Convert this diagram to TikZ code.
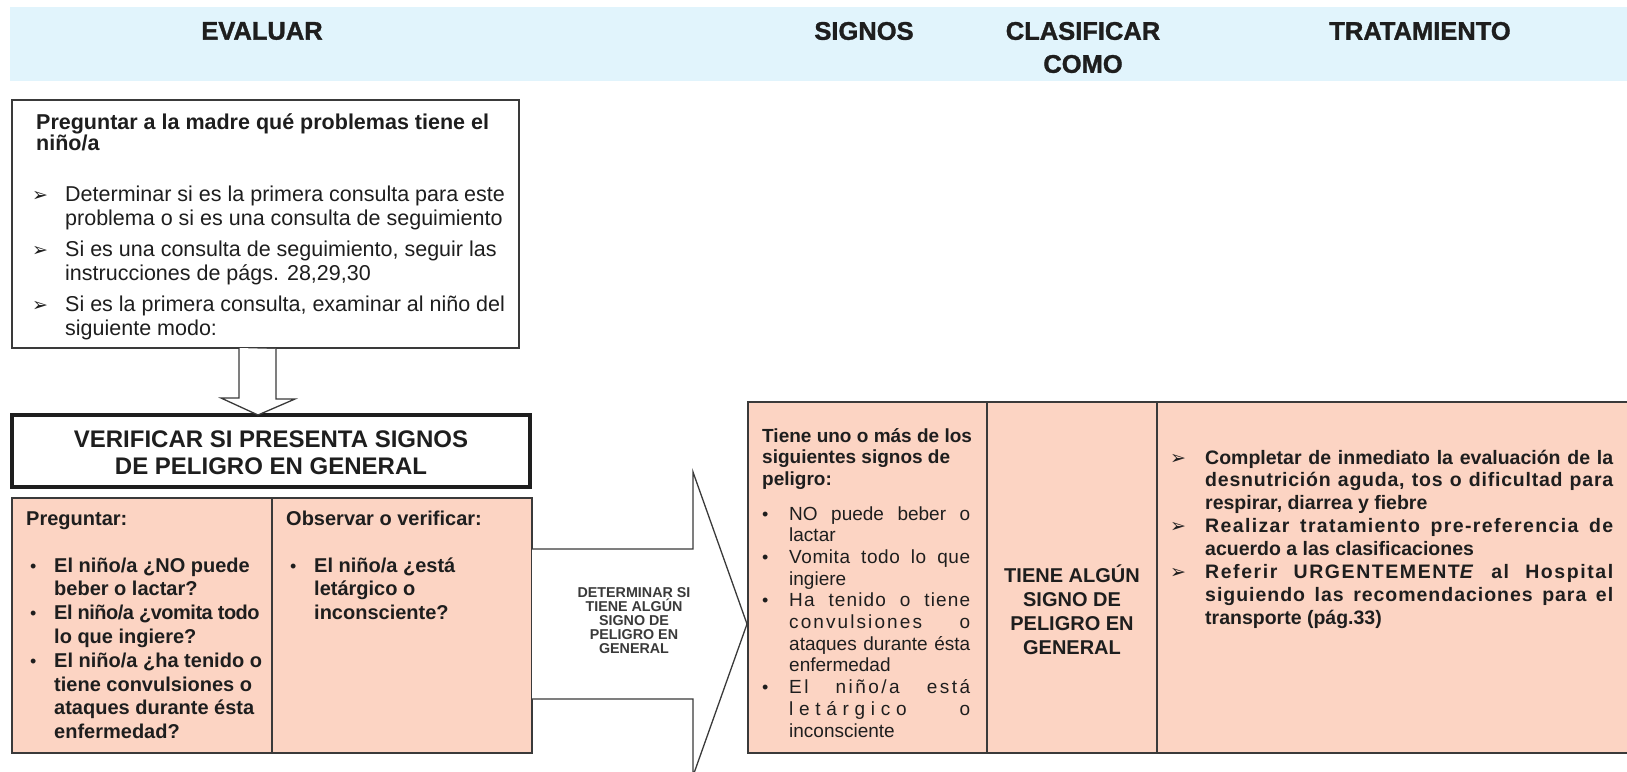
\documentclass[tikz,border=0pt]{standalone}
\usepackage{fontspec}
\setmainfont{Liberation Sans}
\newfontfamily\djv{DejaVu Sans}
\usetikzlibrary{calc}
\definecolor{bandblue}{HTML}{E1F4FC}
\definecolor{peach}{HTML}{FCD4C3}
\definecolor{ink}{HTML}{1E1E1E}
\definecolor{edge}{HTML}{3A3A3A}
\newcommand\arw{{\djv\fontsize{19}{19}\selectfont ➢}}
\newcommand\ls[1]{\addfontfeature{LetterSpace=#1}}
\begin{document}
\begin{tikzpicture}[x=1pt,y=-1pt,
  panel/.style={draw=edge, line width=1.3pt, anchor=north west, inner sep=0pt, outer sep=0pt},
  hollow/.style={draw=edge, line width=1.3pt, fill=white, line join=miter},
  tl/.style={anchor=base west, inner sep=0pt, text=ink},
  tm/.style={anchor=base, inner sep=0pt, text=ink},
  hdr/.style={inner sep=0pt, text=ink, font=\fontsize{25.5}{28}\selectfont\bfseries\addfontfeature{FakeBold=1.3}},
  rA/.style={font=\fontsize{21.5}{24}\selectfont},
  bA/.style={font=\fontsize{21.5}{24}\selectfont\bfseries},
  bB/.style={font=\fontsize{20}{24}\selectfont\bfseries},
  bV/.style={font=\fontsize{24}{27}\selectfont\bfseries},
  bS/.style={font=\fontsize{14.3}{14}\selectfont\bfseries, text=edge},
  rC/.style={font=\fontsize{19}{22}\selectfont},
  bC/.style={font=\fontsize{19}{22}\selectfont\bfseries},
  bT/.style={font=\fontsize{19.5}{23}\selectfont\bfseries},
  dot/.style={anchor=base west, inner sep=0pt, text=ink, font=\fontsize{18}{20}\selectfont}
]
\useasboundingbox (0,0) rectangle (1627,771);

% header band
\node[fill=bandblue, anchor=north west, inner sep=0pt, minimum width=1620pt, minimum height=74pt] (band) at (10,7) {};
\node[hdr] (hEval) at (262,31) {EVALUAR};
\node[hdr] (hSig) at (864,31) {SIGNOS};
\node[hdr] (hCla) at (1083,31) {CLASIFICAR};
\node[hdr] (hComo) at (1083,64) {COMO};
\node[hdr] (hTra) at (1420,31) {TRATAMIENTO};

% top box
\node[panel, fill=white, minimum width=507pt, minimum height=248pt] (top) at (12,100) {};
\node[tl,bA] (q1) at (36,129) {Preguntar a la madre qué problemas tiene el};
\node[tl,bA] (q2) at (36,150) {niño/a};
\node[tl] (qa1) at (32,201.5) {\arw};
\node[tl,rA] (q3) at (65,201.5) {Determinar si es la primera consulta para este};
\node[tl,rA] (q4) at (65,225.5) {problema o si es una consulta de seguimiento};
\node[tl] (qa2) at (32,256.5) {\arw};
\node[tl,rA] (q5) at (65,256.5) {Si es una consulta de seguimiento, seguir las};
\node[tl,rA] (q6) at (65,280.5) {instrucciones de págs. 28,29,30};
\node[tl] (qa3) at (32,311.5) {\arw};
\node[tl,rA] (q7) at (65,311.5) {Si es la primera consulta, examinar al niño del};
\node[tl,rA] (q8) at (65,335.5) {siguiente modo:};

% verificar box
\node[panel, line width=4.5pt, draw=ink, fill=white, minimum width=518pt, minimum height=72pt] (verif) at (12,415) {};
\node[tm,bV] (v1) at (271,447) {VERIFICAR SI PRESENTA SIGNOS};
\node[tm,bV] (v2) at (271,474) {DE PELIGRO EN GENERAL};

% small hollow arrow
\draw[hollow] ($(top.south)+(-26.5,0)$) -- ++(0,50) -- ++(-18,0) -- ($(verif.north)+(-13,0)$) -- ++(37,-16) -- ++(-19,0) -- ++(0,-50);

% left table
\node[panel, fill=peach, minimum width=520pt, minimum height=255pt] (ltab) at (12,498) {};
\draw[edge, line width=1.3pt] ($(ltab.north west)+(260,0)$) -- ($(ltab.south west)+(260,0)$);
\node[tl,bB] (p0) at (26,525) {Preguntar:};
\node[dot] (pd1) at (30,572) {•};
\node[tl,bB] (p1) at (54,572) {El niño/a ¿NO puede};
\node[tl,bB] (p2) at (54,595.8) {beber o lactar?};
\node[dot] (pd2) at (30,619.6) {•};
\node[tl,bB] (p3) at (54,619.6) {\ls{-2.5}El niño/a ¿vomita todo};
\node[tl,bB] (p4) at (54,643.4) {lo que ingiere?};
\node[dot] (pd3) at (30,667.2) {•};
\node[tl,bB] (p5) at (54,667.2) {El niño/a ¿ha tenido o};
\node[tl,bB] (p6) at (54,691) {tiene convulsiones o};
\node[tl,bB] (p7) at (54,714.8) {ataques durante ésta};
\node[tl,bB] (p8) at (54,738.6) {enfermedad?};
\node[tl,bB] (o0) at (286,525) {Observar o verificar:};
\node[dot] (od1) at (290,572) {•};
\node[tl,bB] (o1) at (314,572) {El niño/a ¿está};
\node[tl,bB] (o2) at (314,595.8) {letárgico o};
\node[tl,bB] (o3) at (314,619.6) {inconsciente?};

% big hollow arrow
\coordinate (tip) at (747,624);
\draw[hollow] ($(ltab.north east)+(0,51)$) -- ++(161,0) -- ++(0,-77) -- (tip) -- ++(-54,152) -- ++(0,-77) -- ($(ltab.north east)+(0,201)$);
\node[tm,bS] (d1) at (634,597) {DETERMINAR SI};
\node[tm,bS] (d2) at (634,611) {TIENE ALGÚN};
\node[tm,bS] (d3) at (634,625) {SIGNO DE};
\node[tm,bS] (d4) at (634,639) {PELIGRO EN};
\node[tm,bS] (d5) at (634,653) {GENERAL};

% right table
\node[panel, fill=peach, minimum width=900pt, minimum height=351pt] (rtab) at (748,402) {};
\draw[edge, line width=1.3pt] ($(rtab.north west)+(239,0)$) -- ($(rtab.south west)+(239,0)$);
\draw[edge, line width=1.3pt] ($(rtab.north west)+(409,0)$) -- ($(rtab.south west)+(409,0)$);

\node[tl,bC] (s0) at (762,442) {Tiene uno o más de los};
\node[tl,bC] (s1) at (762,463.5) {siguientes signos de};
\node[tl,bC] (s2) at (762,485) {peligro:};
\node[dot] (sd1) at (762,520) {•};
\node[tl,rC] (s3) at (789,520) {\makebox[181pt][s]{NO puede beber o}};
\node[tl,rC] (s4) at (789,541.7) {lactar};
\node[dot] (sd2) at (762,563.4) {•};
\node[tl,rC] (s5) at (789,563.4) {\makebox[181pt][s]{\ls{3}Vomita todo lo que}};
\node[tl,rC] (s6) at (789,585.1) {ingiere};
\node[dot] (sd3) at (762,606.8) {•};
\node[tl,rC] (s7) at (789,606.8) {\makebox[181pt][s]{\ls{6}Ha tenido o tiene}};
\node[tl,rC] (s8) at (789,628.5) {\makebox[181pt][s]{\ls{11}convulsiones o}};
\node[tl,rC] (s9) at (789,650.2) {\makebox[181pt][s]{ataques durante ésta}};
\node[tl,rC] (s10) at (789,671.9) {enfermedad};
\node[dot] (sd4) at (762,693.6) {•};
\node[tl,rC] (s11) at (789,693.6) {\makebox[181pt][s]{\ls{13}El niño/a está}};
\node[tl,rC] (s12) at (789,715.3) {\makebox[181pt][s]{\ls{30}letárgico o}};
\node[tl,rC] (s13) at (789,737) {inconsciente};

\node[tm,bB] (c1) at (1072,582) {TIENE ALGÚN};
\node[tm,bB] (c2) at (1072,606) {SIGNO DE};
\node[tm,bB] (c3) at (1072,630) {PELIGRO EN};
\node[tm,bB] (c4) at (1072,654) {GENERAL};

\node[tl] (ta1) at (1170,464) {\arw};
\node[tl,bT] (t1) at (1205,464) {\makebox[408pt][s]{Completar de inmediato la evaluación de la}};
\node[tl,bT] (t2) at (1205,486.9) {\makebox[408pt][s]{\ls{4}desnutrición aguda, tos o dificultad para}};
\node[tl,bT] (t3) at (1205,509.8) {respirar, diarrea y fiebre};
\node[tl] (ta2) at (1170,532.7) {\arw};
\node[tl,bT] (t4) at (1205,532.7) {\makebox[408pt][s]{\ls{7}Realizar tratamiento pre-referencia de}};
\node[tl,bT] (t5) at (1205,555.6) {acuerdo a las clasificaciones};
\node[tl] (ta3) at (1170,578.5) {\arw};
\node[tl,bT] (t6) at (1205,578.5) {\makebox[408pt][s]{\ls{8}Referir URGENTEMENT\textit{E} al Hospital}};
\node[tl,bT] (t7) at (1205,601.4) {\makebox[408pt][s]{\ls{5}siguiendo las recomendaciones para el}};
\node[tl,bT] (t8) at (1205,624.3) {transporte (pág.33)};
\end{tikzpicture}
\end{document}
